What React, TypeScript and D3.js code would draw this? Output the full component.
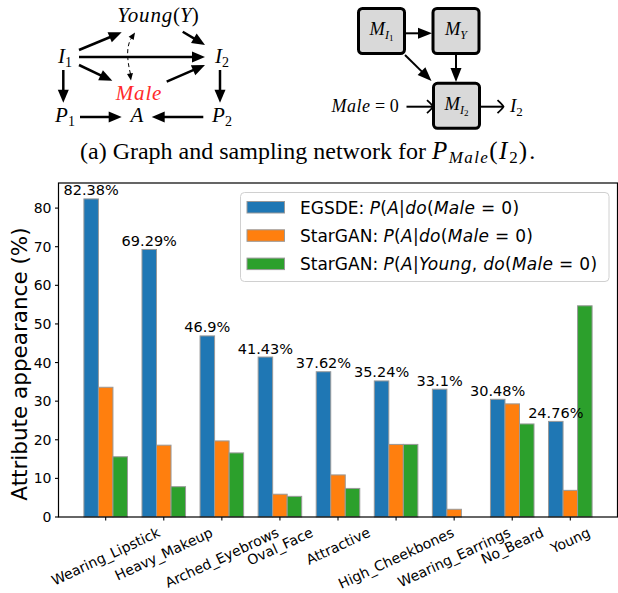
import React, { useEffect, useRef } from "react";
import * as d3 from "d3";

const categories = [
  "Wearing_Lipstick",
  "Heavy_Makeup",
  "Arched_Eyebrows",
  "Oval_Face",
  "Attractive",
  "High_Cheekbones",
  "Wearing_Earrings",
  "No_Beard",
  "Young",
];
const egsde = [82.38, 69.29, 46.9, 41.43, 37.62, 35.24, 33.1, 30.48, 24.76];
const stargan = [33.6, 18.6, 19.7, 5.9, 10.9, 18.8, 2.0, 29.3, 6.9];
const starganYoung = [15.6, 7.85, 16.6, 5.35, 7.4, 18.8, 0, 24.1, 54.7];
const yTicks = [0, 10, 20, 30, 40, 50, 60, 70, 80];
const seriesColors = ["#1f77b4", "#ff7f0e", "#2ca02c"];
const yLabel = "Attribute appearance (%)";
// [text, italic]
const legendLabels: [string, boolean][][] = [
  [["EGSDE: ", false], ["P", true], ["(", false], ["A", true], ["|", false], ["do", true], ["(", false], ["Male", true], [" = ", false], ["0", false], [")", false]],
  [["StarGAN: ", false], ["P", true], ["(", false], ["A", true], ["|", false], ["do", true], ["(", false], ["Male", true], [" = ", false], ["0", false], [")", false]],
  [["StarGAN: ", false], ["P", true], ["(", false], ["A", true], ["|", false], ["Young", true], [", ", false], ["do", true], ["(", false], ["Male", true], [" = ", false], ["0", false], [")", false]],
];

type Seg = { t: string; it?: boolean; sz: number; dy?: number; ls?: number };

function rich(parent: any, x: number, y: number, segs: Seg[], family: string, anchor = "start", fill = "#000") {
  const t = parent
    .append("text")
    .attr("x", x)
    .attr("y", y)
    .attr("font-family", family)
    .attr("text-anchor", anchor)
    .attr("fill", fill)
    .style("white-space", "pre");
  segs.forEach((s) => {
    const ts = t
      .append("tspan")
      .attr("font-style", s.it ? "italic" : "normal")
      .attr("font-size", s.sz)
      .attr("dy", s.dy || 0)
      .text(s.t);
    if (s.ls) ts.attr("letter-spacing", s.ls);
  });
  return t;
}

function arrow(g: any, x1: number, y1: number, x2: number, y2: number, o: { w?: number; hl?: number; hw?: number } = {}) {
  const w = o.w ?? 2.5;
  const hl = o.hl ?? 13;
  const hw = o.hw ?? 11;
  const dx = x2 - x1, dy = y2 - y1;
  const L = Math.hypot(dx, dy);
  const ux = dx / L, uy = dy / L;
  const px = -uy, py = ux;
  const bx = x2 - ux * hl, by = y2 - uy * hl;
  g.append("line")
    .attr("x1", x1).attr("y1", y1)
    .attr("x2", bx + ux * 2).attr("y2", by + uy * 2)
    .attr("stroke", "#000").attr("stroke-width", w);
  g.append("path")
    .attr("d", `M${x2},${y2} L${bx + px * hw / 2},${by + py * hw / 2} L${bx - px * hw / 2},${by - py * hw / 2} Z`)
    .attr("fill", "#000");
}

function head(g: any, x2: number, y2: number, ux: number, uy: number, hl: number, hw: number) {
  const px = -uy, py = ux;
  const bx = x2 - ux * hl, by = y2 - uy * hl;
  g.append("path")
    .attr("d", `M${x2},${y2} L${bx + px * hw / 2},${by + py * hw / 2} L${bx - px * hw / 2},${by - py * hw / 2} Z`)
    .attr("fill", "#000");
}

function openArrow(g: any, x1: number, y: number, x2: number) {
  g.append("line").attr("x1", x1).attr("y1", y).attr("x2", x2 - 0.5).attr("y2", y)
    .attr("stroke", "#000").attr("stroke-width", 2);
  g.append("path")
    .attr("d", `M${x2 - 6},${y - 6.5} Q${x2 - 1},${y - 2} ${x2},${y} Q${x2 - 1},${y + 2} ${x2 - 6},${y + 6.5}`)
    .attr("fill", "none").attr("stroke", "#000").attr("stroke-width", 1.8);
}

export default function App() {
  const ref = useRef<SVGSVGElement>(null);
  useEffect(() => {
    document.body.style.margin = "0";
    const svg = d3.select(ref.current);
    svg.selectAll("*").remove();

    // ---------- Diagram 1 ----------
    const serif = "Liberation Serif";
    const d1 = svg.append("g");
    const fs = 21;
    rich(d1, 158, 22, [{ t: "Young", it: true, sz: fs, ls: 0.8 }, { t: "(", sz: fs }, { t: "Y", it: true, sz: fs }, { t: ")", sz: fs }], serif, "middle");
    const sub = (x: number, y: number, a: string, b: string, fill = "#000") =>
      rich(d1, x, y, [{ t: a, it: true, sz: fs }, { t: b, sz: 14, dy: 4 }], serif, "middle", fill);
    sub(65, 63, "I", "1");
    sub(222, 63, "I", "2");
    sub(65, 122, "P", "1");
    sub(222, 122, "P", "2");
    rich(d1, 137, 122, [{ t: "A", it: true, sz: fs }], serif, "middle");
    rich(d1, 139, 100, [{ t: "Male", it: true, sz: fs, ls: 0.8 }], serif, "middle", "#ff2a2a");

    arrow(d1, 79, 50, 121.7, 32.3);
    arrow(d1, 182.7, 31.7, 205, 45);
    arrow(d1, 79, 57, 205, 57);
    arrow(d1, 79, 65, 112.3, 80.7);
    arrow(d1, 166.7, 81.7, 205, 65);
    arrow(d1, 63.3, 70, 63.3, 102.7);
    arrow(d1, 220, 70, 220, 102.7);
    arrow(d1, 80, 117, 121.7, 117);
    arrow(d1, 203.3, 117, 151.7, 117);
    // dashed bidirected edge
    d1.append("path")
      .attr("d", "M130.5,74 C127,60 126,46 131.5,38")
      .attr("fill", "none").attr("stroke", "#000").attr("stroke-width", 1)
      .attr("stroke-dasharray", "4,3");
    head(d1, 135, 32.5, 0.55, -0.835, 7, 6);
    head(d1, 131, 80.5, 0.15, 0.99, 7, 6);

    // ---------- Diagram 2 ----------
    const d2 = svg.append("g");
    const box = (x: number, y: number) =>
      d2.append("rect").attr("x", x).attr("y", y).attr("width", 46).attr("height", 45).attr("rx", 4)
        .attr("fill", "#d9d9d9").attr("stroke", "#000").attr("stroke-width", 3);
    box(358.5, 8.5);
    box(433, 8.5);
    box(433.5, 83.3);
    const mLabel = (cx: number, cy: number, s: string, ss: string | null) => {
      const segs: Seg[] = [{ t: "M", it: true, sz: 18.5 }, { t: s, it: true, sz: 12, dy: 3.5 }];
      if (ss) segs.push({ t: ss, sz: 9, dy: 2.5 });
      rich(d2, cx, cy, segs, serif, "middle");
    };
    mLabel(381.5, 35, "I", "1");
    mLabel(456, 35, "Y", null);
    mLabel(456.5, 110, "I", "2");
    arrow(d2, 405.5, 33.3, 432, 33.3, { w: 2, hl: 14, hw: 11 });
    arrow(d2, 456, 53.5, 456, 82, { w: 2, hl: 14, hw: 11 });
    arrow(d2, 405, 55, 431.5, 81, { w: 2, hl: 14, hw: 11 });
    rich(d2, 331.5, 112, [{ t: "Male", it: true, sz: 18, ls: 0.5 }, { t: " = 0", sz: 18 }], serif, "start");
    openArrow(d2, 406.5, 106.7, 433);
    openArrow(d2, 480, 106.7, 503.5);
    rich(d2, 510, 112, [{ t: "I", it: true, sz: 19 }, { t: "2", sz: 13, dy: 3.5 }], serif, "start");

    // ---------- Caption ----------
    rich(svg, 80, 159, [
      { t: "(a) Graph and sampling network for ", sz: 24 },
      { t: "P", it: true, sz: 25, ls: 1.5 },
      { t: "Male", it: true, sz: 17, dy: 4, ls: 1.4 },
      { t: "(", sz: 25, dy: -4, ls: 1.5 },
      { t: "I", it: true, sz: 25, ls: 2 },
      { t: "2", sz: 17, dy: 4, ls: 1 },
      { t: ")", sz: 25, dy: -4, ls: 2 },
      { t: ".", sz: 24 },
    ], serif, "start");

    // ---------- Bar chart ----------
    const sans = "DejaVu Sans";
    const x = d3.scaleLinear().domain([-0.8125, 8.8125]).range([58.5, 617.5]);
    const y = d3.scaleLinear().domain([0, 86.5]).range([517, 183]);
    const bw = x(0.25) - x(0);
    const chart = svg.append("g");
    [egsde, stargan, starganYoung].forEach((vals, s) => {
      chart.append("g").selectAll("rect").data(vals).join("rect")
        .attr("x", (_d, i) => x(i + (s - 1) * 0.25 - 0.125))
        .attr("y", (d) => y(d))
        .attr("width", bw)
        .attr("height", (d) => y(0) - y(d))
        .attr("fill", seriesColors[s])
        .attr("stroke", "#999")
        .attr("stroke-width", 1);
    });

    // value labels
    chart.append("g").selectAll("text").data(egsde).join("text")
      .attr("x", (_d, i) => x(i - 0.25))
      .attr("y", (d) => y(d) - 3.5)
      .attr("text-anchor", "middle")
      .attr("font-family", sans)
      .attr("font-size", 14.5)
      .text((d) => `${d}%`);

    // spines
    const [x0, x1] = x.range();
    chart.append("rect").attr("x", x0).attr("y", 183).attr("width", x1 - x0).attr("height", 517 - 183)
      .attr("fill", "none").attr("stroke", "#000").attr("stroke-width", 1.2);

    // y ticks
    yTicks.forEach((t) => {
      chart.append("line").attr("x1", x0 - 3.5).attr("x2", x0).attr("y1", y(t)).attr("y2", y(t))
        .attr("stroke", "#000").attr("stroke-width", 1.1);
      chart.append("text").attr("x", x0 - 7).attr("y", y(t)).attr("dominant-baseline", "central")
        .attr("text-anchor", "end").attr("font-family", sans).attr("font-size", 14).text(String(t));
    });

    // x ticks
    const ang = (25 * Math.PI) / 180;
    const xfs = 14;
    categories.forEach((c, i) => {
      chart.append("line").attr("x1", x(i)).attr("x2", x(i)).attr("y1", 517).attr("y2", 520.5)
        .attr("stroke", "#000").attr("stroke-width", 1.1);
      const t = chart.append("text").attr("font-family", sans).attr("font-size", xfs)
        .attr("text-anchor", "middle").attr("dominant-baseline", "central").text(c);
      const w = (t.node() as SVGTextElement).getComputedTextLength();
      const h = xfs * 1.164;
      const cy = 524 + (w * Math.sin(ang) + h * Math.cos(ang)) / 2;
      t.attr("transform", `translate(${x(i)},${cy}) rotate(-25)`);
    });

    // y label
    chart.append("text").attr("transform", "translate(19,364) rotate(-90)")
      .attr("text-anchor", "middle").attr("dominant-baseline", "central")
      .attr("font-family", sans).attr("font-size", 21.5).text(yLabel);

    // legend
    const lg = chart.append("g");
    lg.append("rect").attr("x", 240.5).attr("y", 192.5).attr("width", 368.5).attr("height", 89).attr("rx", 4)
      .attr("fill", "#fff").attr("fill-opacity", 0.8).attr("stroke", "#d0d0d0").attr("stroke-width", 1);
    legendLabels.forEach((segs, k) => {
      lg.append("rect").attr("x", 247).attr("y", 201.5 + 28.3 * k).attr("width", 37.5).attr("height", 11.5)
        .attr("fill", seriesColors[k]).attr("stroke", "#999").attr("stroke-width", 1);
      rich(lg, 300, 213.5 + 28.3 * k, segs.map(([t, it], j) => ({ t, it, sz: 17, ls: j > 0 ? 0.3 : 0 })), sans, "start");
    });
  }, []);
  return <svg ref={ref} width={618} height={593} style={{ display: "block", background: "#fff" }} />;
}
